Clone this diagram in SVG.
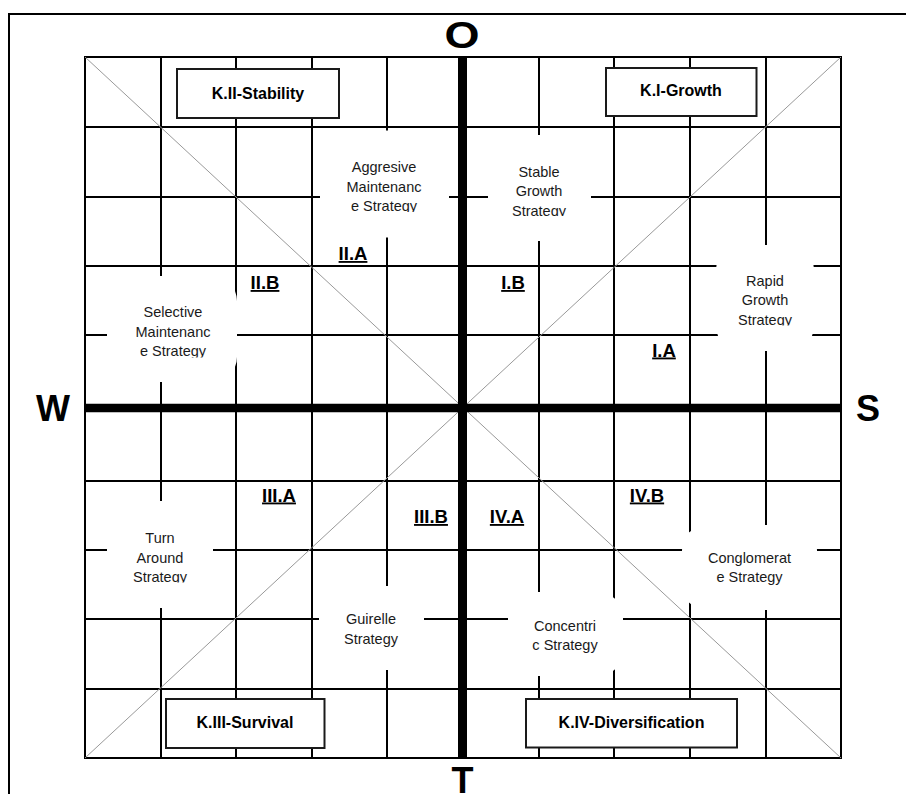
<svg xmlns="http://www.w3.org/2000/svg" width="906" height="794" viewBox="0 0 906 794">
<style>
.frame{stroke:#000;stroke-width:2;fill:none}
.grid{stroke:#000;stroke-width:2;fill:none}
.thick{stroke:#000;fill:none}
.diag{stroke:#999;stroke-width:1;fill:none}
.wbox{fill:#fff;stroke:none}
.st{font-family:"Liberation Sans",Arial,sans-serif;font-size:14.5px;fill:#1a1a1a;text-anchor:middle}
.lab{font-family:"Liberation Sans",Arial,sans-serif;font-size:18.5px;font-weight:bold;fill:#000;text-anchor:middle;text-decoration:underline}
.kbox{fill:#fff;stroke:#1a1a1a;stroke-width:2}
.kt{font-family:"Liberation Sans",Arial,sans-serif;font-size:16px;font-weight:bold;fill:#000;text-anchor:middle}
.ax{font-family:"Liberation Sans",Arial,sans-serif;font-size:36px;font-weight:bold;fill:#000;text-anchor:middle}
</style>
<defs>
<clipPath id="cA"><rect x="300" y="120" width="170" height="92"/></clipPath>
<clipPath id="cB"><rect x="470" y="120" width="140" height="96"/></clipPath>
<clipPath id="cC"><rect x="700" y="240" width="130" height="85.5"/></clipPath>
<clipPath id="cD"><rect x="100" y="270" width="150" height="87.5"/></clipPath>
<clipPath id="cE"><rect x="100" y="495" width="130" height="87.5"/></clipPath>
</defs>
<g id="frame">
<line class="frame" x1="9" y1="14" x2="906" y2="14"/>
<line class="frame" x1="9" y1="13" x2="9" y2="794"/>
</g>
<g id="connectors">
<rect class="grid" x="85" y="57" width="756" height="701"/>
<path class="grid" d="M161 57V758M236 57V758M312 57V758M387 57V758M539 57V758M614 57V758M690 57V758M766 57V758"/>
<path class="grid" d="M85 127H841M85 197H841M85 266H841M85 335H841M85 481H841M85 550H841M85 619H841M85 689H841"/>
<path class="diag" d="M85 57L841 758M841 57L85 758"/>
<line class="thick" x1="462.5" y1="57" x2="462.5" y2="758" stroke-width="9"/>
<line class="thick" x1="85" y1="408" x2="841" y2="408" stroke-width="8.5"/>
</g>
<g id="node-aggresive">
<rect class="wbox" x="320" y="130.5" width="129" height="107" rx="25"/>
<g clip-path="url(#cA)">
<text class="st" x="384" y="172">Aggresive</text>
<text class="st" x="384" y="191.5">Maintenanc</text>
<text class="st" x="384" y="211">e Strategy</text>
</g>
</g>
<g id="node-stable">
<rect class="wbox" x="488" y="135" width="103" height="106" rx="25"/>
<g clip-path="url(#cB)">
<text class="st" x="539" y="176.5">Stable</text>
<text class="st" x="539" y="196">Growth</text>
<text class="st" x="539" y="215.5">Strategy</text>
</g>
</g>
<g id="node-rapid">
<rect class="wbox" x="716" y="245" width="98" height="106" rx="25"/>
<g clip-path="url(#cC)">
<text class="st" x="765" y="285.5">Rapid</text>
<text class="st" x="765" y="305">Growth</text>
<text class="st" x="765" y="324.5">Strategy</text>
</g>
</g>
<g id="node-selective">
<rect class="wbox" x="107" y="276" width="130" height="106" rx="25"/>
<g clip-path="url(#cD)">
<text class="st" x="173" y="317">Selective</text>
<text class="st" x="173" y="336.5">Maintenanc</text>
<text class="st" x="173" y="356">e Strategy</text>
</g>
</g>
<g id="node-turnaround">
<rect class="wbox" x="107" y="501" width="106" height="107" rx="25"/>
<g clip-path="url(#cE)">
<text class="st" x="160" y="543">Turn</text>
<text class="st" x="160" y="562.5">Around</text>
<text class="st" x="160" y="582">Strategy</text>
</g>
</g>
<g id="node-guirelle">
<rect class="wbox" x="319" y="586" width="105" height="84" rx="25"/>
<text class="st" x="371" y="624">Guirelle</text>
<text class="st" x="371" y="643.5">Strategy</text>
</g>
<g id="node-concentric">
<rect class="wbox" x="508" y="592" width="115" height="84" rx="25"/>
<text class="st" x="565" y="631">Concentri</text>
<text class="st" x="565" y="650">c Strategy</text>
</g>
<g id="node-conglomerate">
<rect class="wbox" x="682" y="525" width="135" height="85" rx="25"/>
<text class="st" x="749.5" y="562.5">Conglomerat</text>
<text class="st" x="749.5" y="582">e Strategy</text>
</g>
<g id="labels">
<text class="lab" x="353" y="260">II.A</text>
<text class="lab" x="265" y="289">II.B</text>
<text class="lab" x="513" y="289">I.B</text>
<text class="lab" x="664" y="356.5">I.A</text>
<text class="lab" x="279" y="501.5">III.A</text>
<text class="lab" x="647" y="501.5">IV.B</text>
<text class="lab" x="431" y="523">III.B</text>
<text class="lab" x="507" y="523">IV.A</text>
</g>
<g id="node-k2">
<rect class="kbox" x="177" y="69" width="162" height="49"/>
<text class="kt" x="258" y="98.5">K.II-Stability</text>
</g>
<g id="node-k1">
<rect class="kbox" x="606" y="68" width="150.5" height="48"/>
<text class="kt" x="681" y="96">K.I-Growth</text>
</g>
<g id="node-k3">
<rect class="kbox" x="166" y="699" width="158.5" height="49"/>
<text class="kt" x="245" y="727.5">K.III-Survival</text>
</g>
<g id="node-k4">
<rect class="kbox" x="526" y="699" width="211" height="48.5"/>
<text class="kt" x="631.5" y="727.5">K.IV-Diversification</text>
</g>
<g id="axes">
<text class="ax" x="369.6" y="48" font-size="30" transform="scale(1.25 1)">O</text>
<text class="ax" x="53" y="420.5">W</text>
<text class="ax" x="868" y="420.5">S</text>
<text class="ax" x="462.5" y="792.5">T</text>
</g>
</svg>
